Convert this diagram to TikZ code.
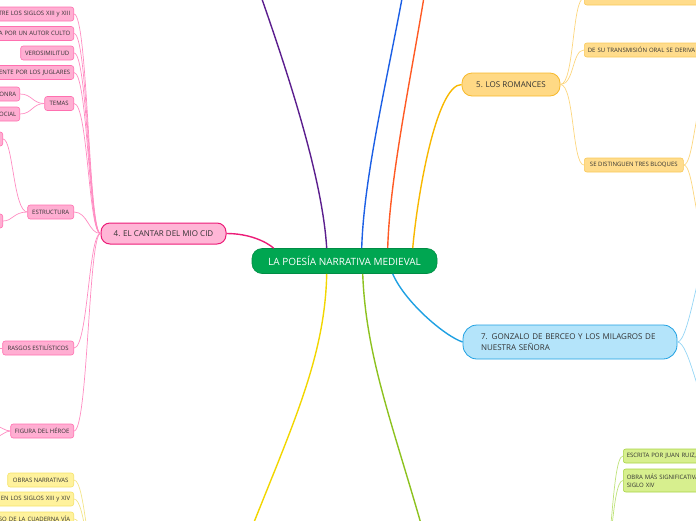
\documentclass[tikz,border=0pt]{standalone}
\usepackage{fontspec}
\setmainfont{Open Sans}
\definecolor{pinkF}{HTML}{FFAED2}
\definecolor{pinkB}{HTML}{FF70B0}
\definecolor{cidF}{HTML}{FFB6D6}
\definecolor{cidB}{HTML}{EC1C78}
\definecolor{pinkL}{HTML}{FF8CC2}
\definecolor{greenC}{HTML}{00A651}
\definecolor{romF}{HTML}{FFD985}
\definecolor{romB}{HTML}{F7B92B}
\definecolor{romL}{HTML}{F8B800}
\definecolor{romsF}{HTML}{FFDC8C}
\definecolor{romsB}{HTML}{F9C95A}
\definecolor{romsL}{HTML}{FCD67E}
\definecolor{gzF}{HTML}{B4E4FA}
\definecolor{gzB}{HTML}{1EA0E2}
\definecolor{gzL}{HTML}{94D5F5}
\definecolor{ylF}{HTML}{FFF29C}
\definecolor{ylB}{HTML}{F5E36B}
\definecolor{ylL}{HTML}{F3E488}
\definecolor{ylMain}{HTML}{F2D600}
\definecolor{grF}{HTML}{D7EF8E}
\definecolor{grB}{HTML}{A9D447}
\definecolor{grL}{HTML}{BFE27A}
\definecolor{grMain}{HTML}{8DC21F}
\definecolor{purp}{HTML}{5B1E8E}
\definecolor{blueT}{HTML}{1C5FE5}
\definecolor{orng}{HTML}{FF5A24}
\definecolor{txt}{HTML}{333333}
\begin{document}
\begin{tikzpicture}[x=1pt,y=-1pt,
  small/.style={rounded corners=2.5pt, line width=0.6pt, text=txt,
    font=\fontsize{6}{7.5}\selectfont, minimum height=14pt, inner xsep=3.5pt, inner ysep=0pt},
  pinksmall/.style={small, draw=pinkB, fill=pinkF},
  romsmall/.style={small, draw=romsB, fill=romsF},
  ylsmall/.style={small, draw=ylB, fill=ylF},
  grsmall/.style={small, draw=grB, fill=grF},
  cutleft/.style={text width=90pt, align=right},
  cutright/.style={text width=90pt, align=left},
  pinkline/.style={draw=pinkL, line width=0.7pt},
  romline/.style={draw=romsL, line width=0.7pt},
  gzline/.style={draw=gzL, line width=0.7pt},
  ylline/.style={draw=ylL, line width=0.7pt},
  grline/.style={draw=grL, line width=0.7pt},
  mainline/.style={line width=1.4pt}
]
\useasboundingbox (0,0) rectangle (696,520);
\clip (0,0) rectangle (696,520);

% central and main nodes
\node[draw=greenC!85!black, fill=greenC, rounded corners=10pt, line width=0.6pt,
  minimum width=185pt, minimum height=25pt, text=white, font=\fontsize{10}{12}\selectfont]
  (central) at (344.5,261) {LA POESÍA NARRATIVA MEDIEVAL};
\node[draw=cidB, fill=cidF, rounded corners=9pt, line width=1pt,
  minimum width=125pt, minimum height=21pt, text=txt, font=\fontsize{8}{10}\selectfont]
  (cid) at (163.5,233.5) {4. EL CANTAR DEL MIO CID};
\node[draw=romB, fill=romF, rounded corners=10pt, line width=0.8pt,
  minimum width=98pt, minimum height=23pt, text=txt, font=\fontsize{8}{10}\selectfont]
  (romances) at (511,84.5) {5. LOS ROMANCES};
\node[draw=gzB, fill=gzF, rounded corners=14pt, line width=0.8pt,
  text width=178pt, inner xsep=18pt, align=left, minimum height=34pt, text=txt,
  font=\fontsize{8}{11}\selectfont]
  (gonzalo) at (570,342) {7. GONZALO DE BERCEO Y LOS MILAGROS DE\\NUESTRA SEÑORA};

% pink children
\node[pinksmall, cutleft, anchor=east] (s1) at (74,14) {TRE LOS SIGLOS XIII y XIII};
\node[pinksmall, cutleft, anchor=east] (s2) at (74,33.5) {A POR UN AUTOR CULTO};
\node[pinksmall, anchor=east, minimum width=53pt] (s3) at (74,53) {VEROSIMILITUD};
\node[pinksmall, cutleft, anchor=east] (s4) at (74,72.5) {ENTE POR LOS JUGLARES};
\node[pinksmall, anchor=east, minimum width=29pt] (temas) at (74,103.5) {TEMAS};
\node[pinksmall, cutleft, anchor=east] (onra) at (20,94) {ONRA};
\node[pinksmall, cutleft, anchor=east] (ocial) at (20,114) {OCIAL};
\node[pinksmall, anchor=east, minimum width=46pt] (est) at (74,212) {ESTRUCTURA};
\node[pinksmall, anchor=east, minimum width=30pt] (e1) at (3,139) {};
\node[pinksmall, anchor=east, minimum width=30pt] (e2) at (3,221) {};
\node[pinksmall, anchor=east, minimum width=71pt] (rasgos) at (74,348) {RASGOS ESTILÍSTICOS};
\node[pinksmall, anchor=east, minimum width=63pt] (figura) at (74,431) {FIGURA DEL HÉROE};

% yellow children (bottom left)
\node[ylsmall, anchor=east, minimum width=66pt] (o1) at (74,480) {OBRAS NARRATIVAS};
\node[ylsmall, cutleft, anchor=east] (o2) at (74,499) {EN LOS SIGLOS XIII y XIV};
\node[ylsmall, cutleft, anchor=east] (o3) at (74,519) {SO DE LA CUADERNA VÍA};

% romances children
\node[romsmall, anchor=west, minimum width=130pt] (r0) at (584,-2) {};
\node[romsmall, cutright, anchor=west, text width=140pt] (r1) at (584,50) {DE SU TRANSMISIÓN ORAL SE DERIVA};
\node[romsmall, anchor=west, minimum width=99pt] (r2) at (584,165) {SE DISTINGUEN TRES BLOQUES};

% green children
\node[grsmall, cutright, anchor=west] (g1) at (623,456) {ESCRITA POR JUAN RUIZ,};
\node[grsmall, cutright, anchor=west, minimum height=23pt, inner ysep=1pt] (g2) at (623,480.5) {OBRA MÁS SIGNIFICATIVA\\SIGLO XIV};

% off-frame coordinates
\coordinate (pTop) at (250,-35);
\coordinate (bTop) at (408,-35);
\coordinate (oTop) at (429,-35);
\coordinate (yBot) at (245,545);
\coordinate (gBot) at (427,545);
\coordinate (ypar) at (100,580);
\coordinate (gpar) at (600,580);
\coordinate (rb1) at (705,100);
\coordinate (rb2) at (705,230);
\coordinate (gz1) at (710,250);
\coordinate (gz2) at (710,410);
\coordinate (rl) at (-5,348);
\coordinate (fl1) at (-5,426);
\coordinate (fl2) at (-5,437);

% main connectors
\draw[mainline, draw=cidB] (cid.east) .. controls +(22,0) and +(-8,-7) .. ([xshift=22pt]central.north west);
\draw[mainline, draw=purp] ([xshift=75pt]central.north west) .. controls (322,170) and (280,50) .. (pTop);
\draw[mainline, draw=blueT] ([xshift=110pt]central.north west) .. controls (364,170) and (392,60) .. (bTop);
\draw[mainline, draw=orng] ([xshift=136pt]central.north west) .. controls (390,170) and (415,60) .. (oTop);
\draw[mainline, draw=romL] ([xshift=161pt]central.north west) .. controls (418,190) and (437,84.5) .. (romances.west);
\draw[mainline, draw=gzB] ([xshift=141pt]central.south west) .. controls +(12,28) and +(-18,-6) .. (gonzalo.west);
\draw[mainline, draw=ylMain] ([xshift=75pt]central.south west) .. controls (325,360) and (290,430) .. (yBot);
\draw[mainline, draw=grMain] ([xshift=111pt]central.south west) .. controls (366,360) and (395,430) .. (gBot);

% pink connectors
\foreach \n in {s1,s2,s3,s4,temas,est,rasgos,figura}
  \draw[pinkline] (\n.east) .. controls +(14,0) and +(-12,0) .. (cid.west);
\draw[pinkline] (temas.west) .. controls +(-12,0) and +(12,0) .. (onra.east);
\draw[pinkline] (temas.west) .. controls +(-12,0) and +(12,0) .. (ocial.east);
\draw[pinkline] (est.west) .. controls +(-14,0) and +(10,0) .. (e1.east);
\draw[pinkline] (est.west) .. controls +(-14,0) and +(10,0) .. (e2.east);
\draw[pinkline] (rasgos.west) -- (rl);
\draw[pinkline] (figura.west) .. controls +(-6,0) and +(6,0) .. (fl1);
\draw[pinkline] (figura.west) .. controls +(-6,0) and +(6,0) .. (fl2);

% yellow connectors
\foreach \n in {o1,o2,o3}
  \draw[ylline] (\n.east) .. controls +(12,0) and +(-12,0) .. (ypar);

% romances connectors
\foreach \n in {r0,r1,r2}
  \draw[romline] (romances.east) .. controls +(14,0) and +(-12,0) .. (\n.west);
\draw[romline] (r2.east) .. controls +(10,0) and +(-10,0) .. (rb1);
\draw[romline] (r2.east) .. controls +(10,0) and +(-10,0) .. (rb2);

% gonzalo connectors
\draw[gzline] (gonzalo.east) .. controls +(12,0) and +(-10,0) .. (gz1);
\draw[gzline] (gonzalo.east) .. controls +(12,0) and +(-10,0) .. (gz2);

% green connectors
\foreach \n in {g1,g2}
  \draw[grline] (gpar) .. controls +(12,0) and +(-12,0) .. (\n.west);
\end{tikzpicture}
\end{document}
